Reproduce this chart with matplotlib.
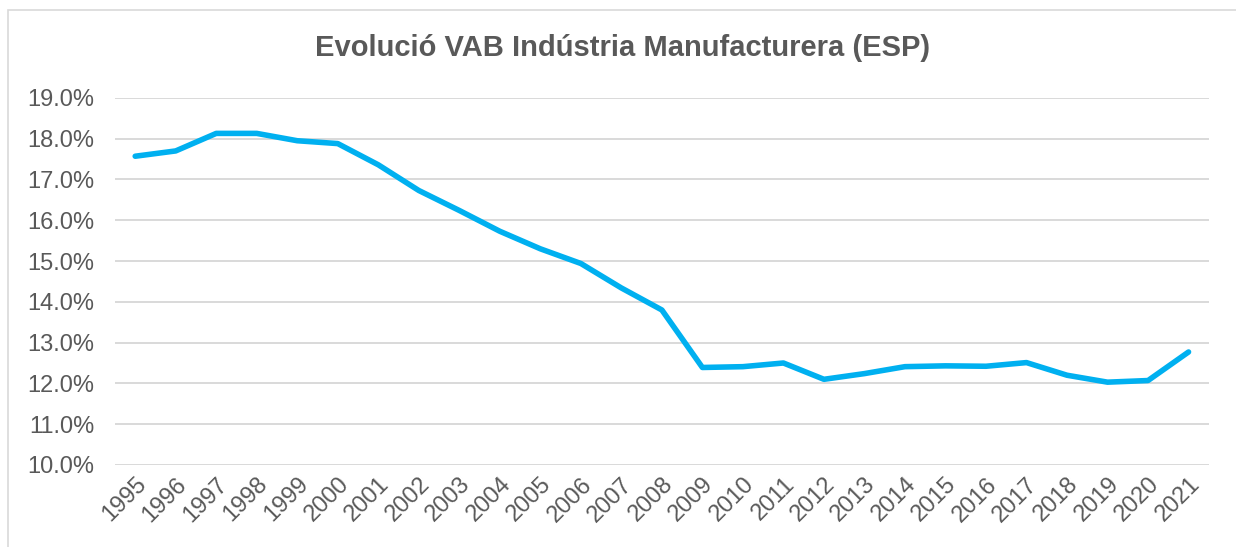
import matplotlib.pyplot as plt
from matplotlib.patches import Rectangle
from matplotlib.ticker import FuncFormatter

plt.rcParams['font.family'] = ['Liberation Sans', 'DejaVu Sans']

years = [str(y) for y in range(1995, 2022)]
vab = [17.57, 17.70, 18.13, 18.13, 17.95, 17.88, 17.36, 16.73, 16.24, 15.73,
       15.30, 14.94, 14.34, 13.80, 12.39, 12.41, 12.50, 12.10, 12.24, 12.41,
       12.43, 12.42, 12.51, 12.20, 12.03, 12.07, 12.77]
yticks = [10, 11, 12, 13, 14, 15, 16, 17, 18, 19]

grey = '#595959'

fig = plt.figure(figsize=(12.36, 5.47), dpi=100)
ax = fig.add_axes([0.093, 0.150, 0.885, 0.671])

# thin frame around the chart (only left and top edges visible)
fig.patches.append(Rectangle((8 / 1236, -0.5), 2.0, 1.5 - 10 / 547,
                             transform=fig.transFigure, fill=False,
                             edgecolor='#d9d9d9', linewidth=1.2))

x = list(range(len(years)))
ax.plot(x, vab, color='#00B0F0', linewidth=4.0, solid_joinstyle='round',
        solid_capstyle='round')

ax.set_xlim(-0.5, len(years) - 0.5)
ax.set_ylim(10, 19)
ax.set_yticks(yticks)
ax.yaxis.set_major_formatter(FuncFormatter(lambda v, p: f'{v:.1f}%'))
ax.set_xticks(x)
ax.set_xticklabels(years, rotation=45, ha='right', rotation_mode='anchor')

ax.grid(axis='y', color='#d9d9d9', linewidth=1.4)
ax.set_axisbelow(True)
for s in ax.spines.values():
    s.set_visible(False)
ax.tick_params(axis='both', length=0, labelsize=17, labelcolor=grey)
ax.tick_params(axis='y', pad=15)
ax.tick_params(axis='x', pad=6)

fig.text(0.504, 0.912, 'Evolució VAB Indústria Manufacturera (ESP)',
         ha='center', va='center', fontsize=21, fontweight='bold', color=grey)

fig.savefig('out.png', dpi=100)
